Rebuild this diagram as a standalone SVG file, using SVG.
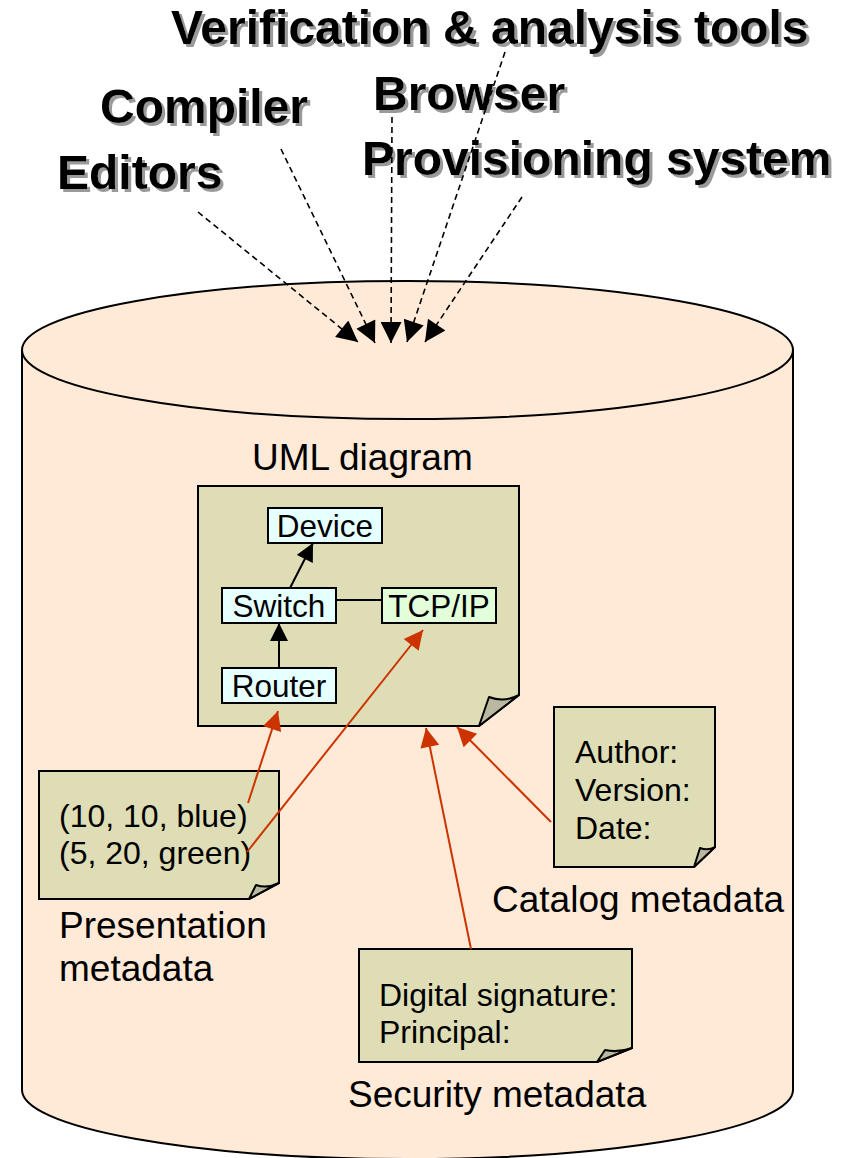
<svg xmlns="http://www.w3.org/2000/svg" width="855" height="1158" viewBox="0 0 855 1158">
  <style>
    .tool { font-family: "Liberation Sans", Arial, sans-serif; font-weight: bold; font-size: 48px; fill: #000; filter: url(#toolShadow); }
    .label { font-family: "Liberation Sans", Arial, sans-serif; font-size: 37px; fill: #000; }
    .body { font-family: "Liberation Sans", Arial, sans-serif; font-size: 32px; fill: #000; }
    .cls { font-family: "Liberation Sans", Arial, sans-serif; font-size: 31.5px; fill: #000; text-anchor: middle; }
    .note { fill: #DEDDB5; stroke: #000; stroke-width: 2; stroke-linejoin: miter; }
    .fold { fill: #BAB8A0; stroke: #000; stroke-width: 2; stroke-linejoin: round; }
    .box { fill: #E6FFFF; stroke: #000; stroke-width: 2; }
    .dash { stroke: #000; stroke-width: 1.6; stroke-dasharray: 6 4; fill: none; }
    .red { stroke: #CC3300; stroke-width: 2; fill: none; }
    .assoc { stroke: #000; stroke-width: 2; fill: none; }
  </style>
  <defs>
    <filter id="toolShadow" x="-5%" y="-20%" width="110%" height="150%">
      <feDropShadow dx="3" dy="3" stdDeviation="0.6" flood-color="#9A9A9A" flood-opacity="1"/>
    </filter>
    <marker id="bigHead" viewBox="0 0 20 20" refX="20" refY="10" markerWidth="23" markerHeight="21" markerUnits="userSpaceOnUse" orient="auto">
      <path d="M0,0 L20,10 L0,20 Z" fill="#000"/>
    </marker>
    <marker id="redHead" viewBox="0 0 20 20" refX="20" refY="10" markerWidth="22" markerHeight="19" markerUnits="userSpaceOnUse" orient="auto">
      <path d="M0,0 L20,10 L0,20 Z" fill="#CC3300"/>
    </marker>
    <marker id="smallHead" viewBox="0 0 20 20" refX="20" refY="10" markerWidth="19" markerHeight="18" markerUnits="userSpaceOnUse" orient="auto">
      <path d="M0,0 L20,10 L0,20 Z" fill="#000"/>
    </marker>
  </defs>

  <!-- repository cylinder -->
  <g id="repository">
    <path d="M22,350 L22,1090 A385.5,69 0 0 0 793,1090 L793,350 Z" fill="#FEEAD7" stroke="#000" stroke-width="2"/>
    <ellipse cx="407.5" cy="350" rx="385.5" ry="69" fill="#FEEAD7" stroke="#000" stroke-width="2"/>
  </g>

  <!-- tool labels -->
  <g id="tool-verification">
    <text class="tool" x="171" y="44">Verification &amp; analysis tools</text>
  </g>
  <g id="tool-browser">
    <text class="tool" x="373" y="110">Browser</text>
  </g>
  <g id="tool-compiler">
    <text class="tool" x="100" y="123">Compiler</text>
  </g>
  <g id="tool-provisioning">
    <text class="tool" x="362" y="175">Provisioning system</text>
  </g>
  <g id="tool-editors">
    <text class="tool" x="57" y="189">Editors</text>
  </g>

  <!-- UML diagram note -->
  <g id="uml-diagram">
    <text class="label" x="252" y="470">UML diagram</text>
    <path class="note" d="M198,486 H519 V695 L479,726 H198 Z"/>
    <path class="fold" d="M479,726 L489,697 Q504,703 519,695 Z"/>
  </g>
  <g id="class-device">
    <rect class="box" x="268" y="508" width="114" height="35"/>
    <text class="cls" x="325" y="537">Device</text>
  </g>
  <g id="class-switch">
    <rect class="box" x="222" y="588" width="114" height="35"/>
    <text class="cls" x="279" y="617">Switch</text>
  </g>
  <g id="class-tcpip">
    <rect class="box" x="382" y="588" width="114" height="35" style="fill:#E2FFDA"/>
    <text class="cls" x="439" y="617">TCP/IP</text>
  </g>
  <g id="class-router">
    <rect class="box" x="222" y="668" width="114" height="35"/>
    <text class="cls" x="279" y="697">Router</text>
  </g>

  <!-- presentation metadata note -->
  <g id="presentation-metadata">
    <path class="note" d="M39,771 H279 V883 L249,899 H39 Z"/>
    <path class="fold" d="M249,899 L256,885 Q267,889 279,883 Z"/>
    <text class="body" x="59" y="827">(10, 10, blue)</text>
    <text class="body" x="59" y="864">(5, 20, green)</text>
    <text class="label" x="59" y="938">Presentation</text>
    <text class="label" x="59" y="981">metadata</text>
  </g>

  <!-- catalog metadata note -->
  <g id="catalog-metadata">
    <path class="note" d="M554,707 H715 V847 L694,867 H554 Z"/>
    <path class="fold" d="M694,867 L700,848 Q708,851 715,847 Z"/>
    <text class="body" x="575" y="763">Author:</text>
    <text class="body" x="575" y="801">Version:</text>
    <text class="body" x="575" y="839">Date:</text>
    <text class="label" x="492" y="912">Catalog metadata</text>
  </g>

  <!-- security metadata note -->
  <g id="security-metadata">
    <path class="note" d="M359,949 H632 V1048 L597,1062 H359 Z"/>
    <path class="fold" d="M597,1062 L605,1050 Q618,1053 632,1048 Z"/>
    <text class="body" x="379" y="1006">Digital signature:</text>
    <text class="body" x="379" y="1043">Principal:</text>
    <text class="label" x="348" y="1107">Security metadata</text>
  </g>

  <!-- connectors -->
  <g id="connectors">
    <!-- tools accessing the repository -->
    <line class="dash" x1="198" y1="212" x2="358" y2="342" marker-end="url(#bigHead)"/>
    <line class="dash" x1="281" y1="149" x2="375" y2="343" marker-end="url(#bigHead)"/>
    <line class="dash" x1="392" y1="117" x2="391" y2="343" marker-end="url(#bigHead)"/>
    <line class="dash" x1="505" y1="52" x2="407" y2="342" marker-end="url(#bigHead)"/>
    <line class="dash" x1="522" y1="197" x2="425" y2="342" marker-end="url(#bigHead)"/>

    <!-- UML model relations -->
    <line class="assoc" x1="290" y1="588" x2="313" y2="543" marker-end="url(#smallHead)"/>
    <line class="assoc" x1="279" y1="668" x2="279" y2="623" marker-end="url(#smallHead)"/>
    <line class="assoc" x1="336" y1="600" x2="382" y2="600"/>

    <!-- metadata references -->
    <line class="red" x1="248" y1="803" x2="278" y2="711" marker-end="url(#redHead)"/>
    <line class="red" x1="247" y1="852" x2="423" y2="630" marker-end="url(#redHead)"/>
    <line class="red" x1="471" y1="949" x2="426" y2="728" marker-end="url(#redHead)"/>
    <line class="red" x1="551" y1="822" x2="457" y2="727" marker-end="url(#redHead)"/>
  </g>
</svg>
